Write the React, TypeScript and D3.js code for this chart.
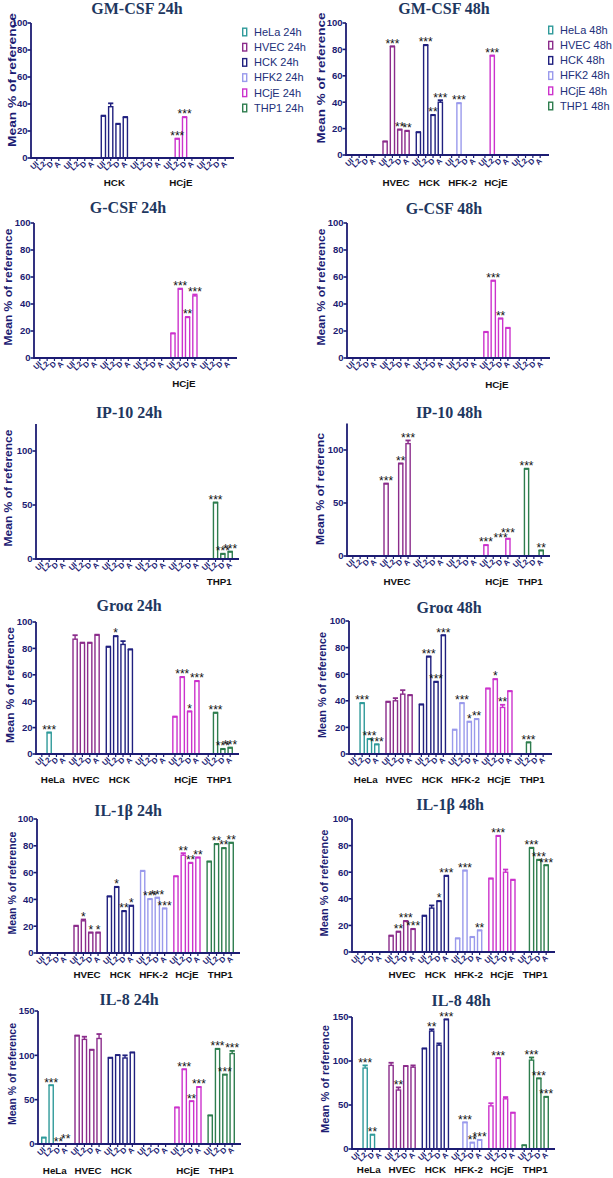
import React from "react";
import * as d3 from "d3";

// ---------- categories ----------
const groups = ["HeLa", "HVEC", "HCK", "HFK2", "HCjE", "THP1"];
const groupLabels = ["HeLa", "HVEC", "HCK", "HFK-2", "HCjE", "THP1"];
const treatments = ["UI", "L2", "D", "A"];
const legend24 = ["HeLa 24h", "HVEC 24h", "HCK 24h", "HFK2 24h", "HCjE 24h", "THP1 24h"];
const legend48 = ["HeLa 48h", "HVEC 48h", "HCK 48h", "HFK2 48h", "HCjE 48h", "THP1 48h"];
const groupColors = ["#2f9a9a", "#8b2c8b", "#20207f", "#9a9aec", "#cc33cc", "#2e7d4e"];

// ---------- values (order: HeLa UI,L2,D,A | HVEC | HCK | HFK2 | HCjE | THP1) ----------
const _ = null;
const gmcsf24 = [_, _, _, _, _, _, _, _, 31, 38, 25, 30, _, _, _, _, _, 14, 30, _, _, _, _, _];
const gmcsf48 = [_, _, _, _, 10, 82, 19, 18, 17, 83, 30, 40, _, 39, _, _, _, 75, _, _, _, _, _, _];
const gcsf24 = [_, _, _, _, _, _, _, _, _, _, _, _, _, _, _, _, 18, 51, 30, 46, _, _, _, _];
const gcsf48 = [_, _, _, _, _, _, _, _, _, _, _, _, _, _, _, _, 19, 57, 29, 22, _, _, _, _];
const ip10_24 = [_, _, _, _, _, _, _, _, _, _, _, _, _, _, _, _, _, _, _, _, _, 52, 4.5, 6.5];
const ip10_48 = [_, _, _, _, 68, _, 87, 106, _, _, _, _, _, _, _, _, 10, _, _, 16, _, 82, _, 5];
const groa24 = [_, 16, _, _, 87, 84, 84, 90, 81, 89, 83, 79, _, _, _, _, 28, 58, 32, 55, _, 31, 3.5, 4.5];
const groa48 = [_, 38, 11, 7, 39, 40, 45, 44, 37, 73, 54, 89, 18, 38, 24, 26, 49, 56, 35, 47, _, 8.5, _, _];
const il1b24 = [_, _, _, _, 20, 24, 15, 15, 42, 49, 31, 35, 61, 40, 41, 33, 57, 73, 67, 71, 68, 81, 78, 82];
const il1b48 = [_, _, _, _, 12, 15, 23, 17, 27, 33, 38, 57, 10, 61, 11, 16, 55, 87, 60, 54, _, 78, 69, 65];
const il8_24 = [7, 66, _, _, 122, 118, 106, 119, 97, 100, 97, 103, _, _, _, _, 41, 84, 48, 64, 32, 107, 78, 102];
const il8_48 = [_, 92, 16, _, 95, 67, 94, 93, 114, 134, 118, 147, _, 30, 7, 10, 49, 103, 57, 41, 4, 101, 80, 59];

// ---------- error bars: [bar index, SEM] ----------
const gmcsf24Err = [[9, 2.5]];
const gmcsf48Err = [[11, 1.5]];
const gcsf24Err = [[19, 1]];
const gcsf48Err = [];
const ip10_24Err = [];
const ip10_48Err = [[7, 3]];
const groa24Err = [[4, 3], [10, 2.5]];
const groa48Err = [[5, 2], [6, 3], [18, 2]];
const il1b24Err = [[5, 1], [17, 1.5]];
const il1b48Err = [[9, 2], [18, 2]];
const il8_24Err = [[5, 3], [7, 5], [10, 3], [23, 3]];
const il8_48Err = [[1, 3], [4, 3], [5, 3], [7, 2], [9, 2], [10, 2], [16, 3], [18, 2], [21, 3]];

// ---------- significance stars: [bar index, label, optional level] ----------
const gmcsf24Stars = [[17, "***"], [18, "***"]];
const gmcsf48Stars = [[5, "***"], [6, "**"], [7, "**"], [9, "***"], [10, "**"], [11, "***"], [13, "***"], [17, "***"]];
const gcsf24Stars = [[17, "***"], [18, "**"], [19, "***"]];
const gcsf48Stars = [[17, "***"], [18, "**"]];
const ip10_24Stars = [[21, "***"], [22, "***"], [23, "***"]];
const ip10_48Stars = [[4, "***"], [6, "**"], [7, "***"], [16, "***"], [18, "***", 15], [19, "***", 19], [21, "***"], [23, "**"]];
const groa24Stars = [[1, "***"], [9, "*"], [17, "***"], [18, "*"], [19, "***"], [21, "***"], [22, "***"], [23, "***"]];
const groa48Stars = [[1, "***"], [2, "***"], [3, "***"], [9, "***"], [10, "***"], [11, "***"], [13, "***"], [14, "*"], [15, "**"], [17, "*"], [18, "**"], [21, "***"]];
const il1b24Stars = [[5, "*"], [6, "*"], [7, "*"], [9, "*"], [10, "**"], [11, "*"], [13, "***"], [14, "***"], [15, "***"], [17, "**"], [18, "**"], [19, "**"], [21, "**"], [22, "**"], [23, "**"]];
const il1b48Stars = [[5, "**"], [6, "***"], [7, "***"], [10, "*"], [11, "***"], [13, "***"], [15, "**"], [17, "***"], [21, "***"], [22, "***"], [23, "***"]];
const il8_24Stars = [[1, "***"], [2, "**", 0], [3, "**", 3], [17, "***"], [18, "**"], [19, "***"], [21, "***"], [22, "***"], [23, "***"]];
const il8_48Stars = [[1, "***"], [2, "**"], [5, "**"], [9, "**"], [11, "***"], [13, "***"], [14, "**"], [15, "***"], [17, "***"], [21, "***"], [22, "***"], [23, "***"]];

// ---------- panel table ----------
const panels = [
  { title: "GM-CSF 24h", values: gmcsf24, errs: gmcsf24Err, stars: gmcsf24Stars, legend: legend24,
    x0: 31, yZero: 158, yRef: 23, ref: 100, max: 100, ticks: [0, 20, 40, 60, 80, 100],
    tx: 137, ty: 14, ylab: "Mean % of reference", ybx: 15.5, ycy: 80, ylen: 134, gly: 186, lx: 242, ly: 32 },
  { title: "GM-CSF 48h", values: gmcsf48, errs: gmcsf48Err, stars: gmcsf48Stars, legend: legend48,
    x0: 346, yZero: 155, yRef: 23, ref: 100, max: 100, ticks: [0, 20, 40, 60, 80, 100],
    tx: 444, ty: 14, ylab: "Mean % of reference", ybx: 324.5, ycy: 78, ylen: 131, gly: 186, lx: 548, ly: 30 },
  { title: "G-CSF 24h", values: gcsf24, errs: gcsf24Err, stars: gcsf24Stars,
    x0: 34, yZero: 358, yRef: 223, ref: 100, max: 100, ticks: [0, 20, 40, 60, 80, 100],
    tx: 128, ty: 213, ylab: "Mean % of reference", ybx: 12, ycy: 287, ylen: 117, gly: 387 },
  { title: "G-CSF 48h", values: gcsf48, errs: gcsf48Err, stars: gcsf48Stars,
    x0: 347, yZero: 358, yRef: 223, ref: 100, max: 100, ticks: [0, 20, 40, 60, 80, 100],
    tx: 444, ty: 214, ylab: "Mean % of reference", ybx: 324.5, ycy: 287, ylen: 117, gly: 388 },
  { title: "IP-10 24h", values: ip10_24, errs: ip10_24Err, stars: ip10_24Stars,
    x0: 36, yZero: 559, yRef: 451, ref: 100, max: 125, ticks: [0, 50, 100],
    tx: 129, ty: 418, ylab: "Mean % of reference", ybx: 12, ycy: 488, ylen: 117, gly: 585 },
  { title: "IP-10 48h", values: ip10_48, errs: ip10_48Err, stars: ip10_48Stars,
    x0: 347, yZero: 556, yRef: 450, ref: 100, max: 125, ticks: [0, 50, 100],
    tx: 449, ty: 418, ylab: "Mean % of referenc", ybx: 324, ycy: 489, ylen: 112, gly: 585 },
  { title: "Groα 24h", values: groa24, errs: groa24Err, stars: groa24Stars,
    x0: 36, yZero: 754, yRef: 622, ref: 100, max: 100, ticks: [0, 20, 40, 60, 80, 100],
    tx: 129, ty: 611, ylab: "Mean % of reference", ybx: 14, ycy: 685, ylen: 116, gly: 783 },
  { title: "Groα 48h", values: groa48, errs: groa48Err, stars: groa48Stars,
    x0: 349, yZero: 754, yRef: 621, ref: 100, max: 100, ticks: [0, 20, 40, 60, 80, 100],
    tx: 449, ty: 613, ylab: "Mean % of reference", ybx: 326, ycy: 685, ylen: 106, gly: 783 },
  { title: "IL-1β 24h", values: il1b24, errs: il1b24Err, stars: il1b24Stars,
    x0: 37, yZero: 953, yRef: 819, ref: 100, max: 100, ticks: [0, 20, 40, 60, 80, 100],
    tx: 128, ty: 816, ylab: "Mean % of reference", ybx: 15.5, ycy: 883, ylen: 103, gly: 978 },
  { title: "IL-1β 48h", values: il1b48, errs: il1b48Err, stars: il1b48Stars,
    x0: 352, yZero: 952, yRef: 819, ref: 100, max: 100, ticks: [0, 20, 40, 60, 80, 100],
    tx: 450, ty: 810, ylab: "Mean % of reference", ybx: 328, ycy: 883, ylen: 107, gly: 978 },
  { title: "IL-8 24h", values: il8_24, errs: il8_24Err, stars: il8_24Stars,
    x0: 38, yZero: 1144, yRef: 1011, ref: 150, max: 150, ticks: [0, 50, 100, 150],
    tx: 129, ty: 1005, ylab: "Mean % of reference", ybx: 16, ycy: 1074, ylen: 102, gly: 1174 },
  { title: "IL-8 48h", values: il8_48, errs: il8_48Err, stars: il8_48Stars,
    x0: 352, yZero: 1149, yRef: 1017, ref: 150, max: 150, ticks: [0, 50, 100, 150],
    tx: 461, ty: 1006, ylab: "Mean % of reference", ybx: 329, ycy: 1079, ylen: 108, gly: 1173 },
];

const NAVY = "#1c1c73";
const TITLE = "#1e3760";
const SANS = "'Liberation Sans', Arial, sans-serif";
const SERIF = "'Liberation Serif', 'Times New Roman', serif";

function Panel({ p }: { p: any }) {
  const x = d3.scaleBand().domain(groups).range([p.x0, p.x0 + 200]).paddingInner(0.12).paddingOuter(0.065);
  const xi = d3.scaleBand().domain(treatments).range([0, x.bandwidth()]);
  const cx = (i: number) => (x(groups[Math.floor(i / 4)]) as number) + (xi(treatments[i % 4]) as number) + xi.bandwidth() / 2;
  const yTopPx = p.yZero - ((p.yZero - p.yRef) * p.max) / p.ref;
  const y = d3.scaleLinear().domain([0, p.max]).range([p.yZero, yTopPx]);
  const errMap = new Map<number, number>(p.errs.map((e: number[]) => [e[0], e[1]]));
  const bw = 4.2;
  const idx = d3.range(24);
  const xEnd = p.x0 + 203;

  return (
    <g>
      <text x={p.tx} y={p.ty} textAnchor="middle" fontFamily={SERIF} fontWeight="bold" fontSize={16} fill={TITLE}>
        {p.title}
      </text>
      <text
        transform={`translate(${p.ybx},${p.ycy}) rotate(-90)`}
        textAnchor="middle"
        fontFamily={SANS}
        fontWeight="bold"
        fontSize={11.5}
        fill={NAVY}
        textLength={p.ylen}
        lengthAdjust="spacingAndGlyphs"
      >
        {p.ylab}
      </text>
      {/* bars */}
      {idx.map((i) => {
        const v = p.values[i];
        if (v == null) return null;
        const e = errMap.get(i) ?? 0.4;
        const c = groupColors[Math.floor(i / 4)];
        return (
          <g key={"b" + i}>
            <rect x={cx(i) - bw / 2} y={y(v)} width={bw} height={y(0) - y(v)} fill="#fff" stroke={c} strokeWidth={1.4} />
            <line x1={cx(i)} x2={cx(i)} y1={y(v)} y2={y(v + e)} stroke={c} strokeWidth={1.4} />
            <line x1={cx(i) - 2.6} x2={cx(i) + 2.6} y1={y(v + e)} y2={y(v + e)} stroke={c} strokeWidth={1.8} />
          </g>
        );
      })}
      {/* stars */}
      {p.stars.map((s: any[], k: number) => {
        const i = s[0];
        const v = p.values[i] ?? 0;
        const lvl = s[2] != null ? s[2] : v + (errMap.get(i) ?? 0.4);
        return (
          <text key={"s" + k} x={cx(i)} y={y(lvl) + 1.5} textAnchor="middle" fontFamily={SANS} fontSize={12} fill="#111">
            {s[1]}
          </text>
        );
      })}
      {/* y axis */}
      <line x1={p.x0} x2={p.x0} y1={p.yZero + 0.9} y2={yTopPx} stroke={NAVY} strokeWidth={1.8} />
      {p.ticks.map((t: number) => (
        <g key={"yt" + t}>
          <line x1={p.x0 - 3.5} x2={p.x0} y1={y(t)} y2={y(t)} stroke={NAVY} strokeWidth={1.6} />
          <text x={p.x0 - 3.5} y={y(t) + 3.4} textAnchor="end" fontFamily={SANS} fontWeight="bold" fontSize={9.5} fill={NAVY}>
            {t}
          </text>
        </g>
      ))}
      {/* x axis */}
      <line x1={p.x0} x2={xEnd} y1={p.yZero} y2={p.yZero} stroke={NAVY} strokeWidth={1.8} />
      {idx.map((i) => (
        <g key={"xt" + i}>
          <line x1={cx(i)} x2={cx(i)} y1={p.yZero} y2={p.yZero + 3} stroke={NAVY} strokeWidth={1.2} />
          <text
            transform={`translate(${cx(i) + 2.3},${p.yZero + 6.5}) rotate(-45)`}
            textAnchor="end"
            fontFamily={SANS}
            fontWeight="bold"
            fontSize={7.8}
            fill={NAVY}
          >
            {treatments[i % 4]}
          </text>
        </g>
      ))}
      {/* group labels */}
      {groups.map((g, gi) => {
        const has = p.values.slice(gi * 4, gi * 4 + 4).some((v: any) => v != null) ||
          p.stars.some((s: any[]) => Math.floor(s[0] / 4) === gi);
        if (!has) return null;
        return (
          <text key={"gl" + g} x={(x(g) as number) + x.bandwidth() / 2} y={p.gly} textAnchor="middle" fontFamily={SANS} fontWeight="bold" fontSize={9.8} fill="#111">
            {groupLabels[gi]}
          </text>
        );
      })}
      {/* legend */}
      {p.legend &&
        p.legend.map((l: string, li: number) => {
          const yy = p.ly + li * 15.2;
          return (
            <g key={"lg" + li}>
              <rect x={p.lx + 0.7} y={yy - 3.8} width={4} height={7.6} fill="#fff" stroke={groupColors[li]} strokeWidth={1.4} />
              <text x={p.lx + 12} y={yy + 3.8} fontFamily={SANS} fontSize={11} fill="#22307a">
                {l}
              </text>
            </g>
          );
        })}
    </g>
  );
}

export default function App() {
  return (
    <svg
      width={613}
      height={1178}
      viewBox="0 0 613 1178"
      style={{ position: "absolute", left: 0, top: 0, background: "#fff" }}
    >
      <rect x={0} y={0} width={613} height={1178} fill="#fff" />
      {panels.map((p, i) => (
        <Panel key={i} p={p} />
      ))}
    </svg>
  );
}
